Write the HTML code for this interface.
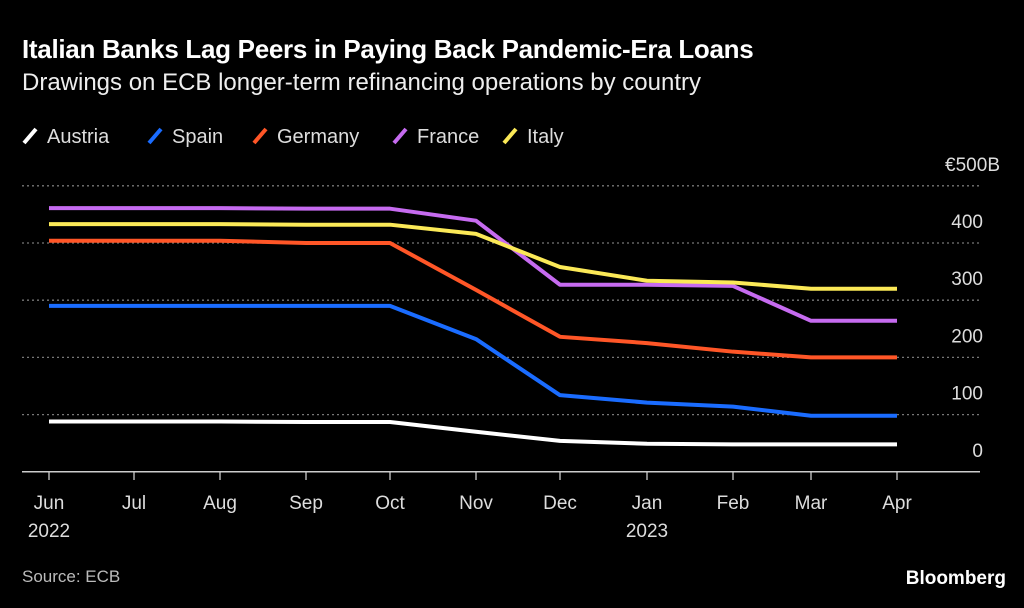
<!DOCTYPE html>
<html><head><meta charset="utf-8"><style>
body{margin:0;background:#000;width:1024px;height:608px;overflow:hidden;font-family:"Liberation Sans",sans-serif;color:#fff}
.t{position:absolute;white-space:nowrap}
</style></head><body>
<div class="t" style="left:22px;top:34px;font-size:26px;font-weight:bold;letter-spacing:-0.3px">Italian Banks Lag Peers in Paying Back Pandemic-Era Loans</div>
<div class="t" style="left:22px;top:69px;font-size:24px;color:#eee">Drawings on ECB longer-term refinancing operations by country</div>
<svg width="1024" height="608" style="position:absolute;left:0;top:0" id="svg"></svg>
<div class="t" style="left:22px;top:567px;font-size:17px;color:#bbb">Source: ECB</div>
<div class="t" style="right:18px;top:568px;font-size:19px;font-weight:bold">Bloomberg</div>
<script>
const months=["Jun","Jul","Aug","Sep","Oct","Nov","Dec","Jan","Feb","Mar","Apr"];
const years=["2022","","","","","","","2023","","",""];
const yTicks=[0,100,200,300,400,500];
const names=["Austria","Spain","Germany","France","Italy"];
const colors=["#ffffff","#1a6cff","#ff5627","#c66bf0","#fbe957"];
const austria=[88,88,88,87,87,70,54,49,48,48,48];
const spain=[290,290,290,290,290,232,134,121,114,98,98];
const germany=[404,404,404,400,400,318,236,225,210,200,200];
const france=[461,461,461,460,460,439,327,327,325,264,264];
const italy=[433,433,433,432,432,416,358,334,331,320,320];
const series=[austria,spain,germany,france,italy];
const NS="http://www.w3.org/2000/svg";
const svg=document.getElementById('svg');
const xPos=[49,134,220,306,390,476,560,647,733,811,897];
function x(i){return xPos[i];}
function y(v){return 471.8-v*0.572;}
function mk(t,a){const e=document.createElementNS(NS,t);for(const k in a)e.setAttribute(k,a[k]);svg.appendChild(e);return e;}
yTicks.forEach((v,i)=>{
  if(v>0){const g=mk('line',{x1:22,x2:980,y1:y(v),y2:y(v),stroke:'#777','stroke-width':1.3,'stroke-dasharray':'2,3'});
  
  }
  const t=mk('text',{x:v===500?1000:983,y:y(v)-15,'text-anchor':'end','font-size':19,fill:'#ddd'});
  t.textContent=v===500?'€500B':v;
  
  
});
const ax=mk('line',{x1:22,x2:980,y1:471.8,y2:471.8,stroke:'#ccc','stroke-width':1.5});


months.forEach((m,i)=>{
  const tk=mk('line',{x1:x(i),x2:x(i),y1:472,y2:480,stroke:'#ccc','stroke-width':1.3});
  
  
  const t=mk('text',{x:x(i),y:509,'text-anchor':'middle','font-size':19,fill:'#ddd'});
  t.textContent=m;
  
  
  if(years[i]){const yt=mk('text',{x:x(i),y:537,'text-anchor':'middle','font-size':19,fill:'#ddd'});
  yt.textContent=years[i];
  
  }
});
series.forEach((s,k)=>{
  const p=mk('polyline',{points:s.map((v,i)=>x(i)+','+y(v)).join(' '),fill:'none',stroke:colors[k],'stroke-width':4,'stroke-linejoin':'round'});
  
  
});
const lx=[22,147,252,392,502];
names.forEach((n,k)=>{
  const l=mk('line',{x1:lx[k]+2,y1:143,x2:lx[k]+14,y2:129,stroke:colors[k],'stroke-width':4});
  
  
  const t=mk('text',{x:lx[k]+25,y:143,'font-size':20,fill:'#ddd'});
  t.textContent=n;
  
  
});
</script>
</body></html>
